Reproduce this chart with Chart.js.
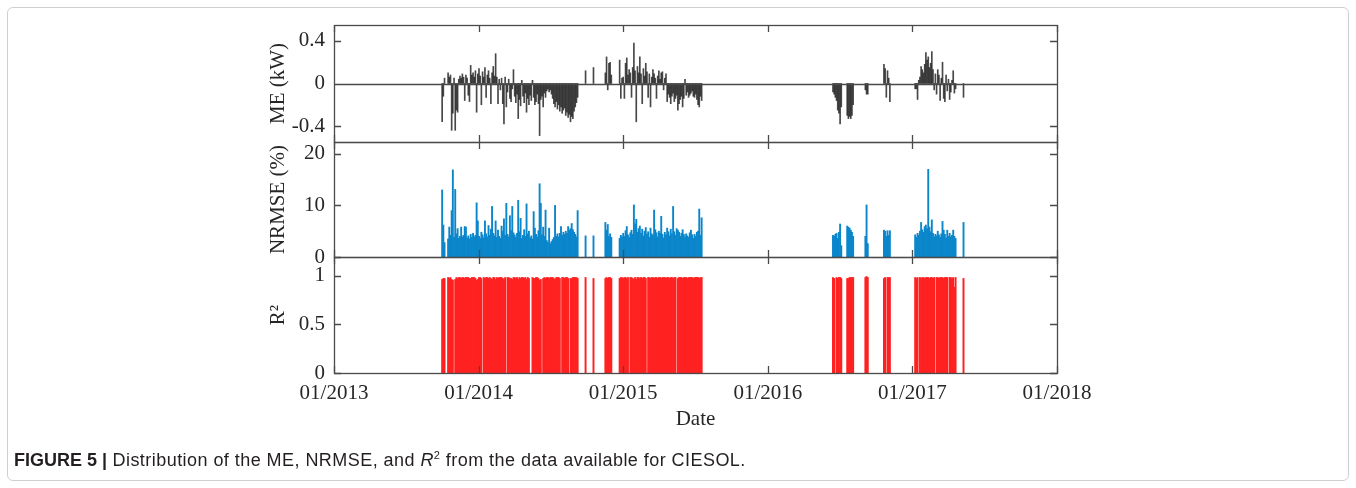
<!DOCTYPE html>
<html>
<head>
<meta charset="utf-8">
<script src="https://cdn.jsdelivr.net/npm/chart.js@4.4.1/dist/chart.umd.min.js"></script>
<style>
  html, body { margin: 0; padding: 0; background: #fff; width: 1356px; height: 488px; overflow: hidden; }
  #frame { position: absolute; left: 7px; top: 7px; width: 1342px; height: 474px; border: 1px solid #cfcfcf; border-radius: 6px; box-sizing: border-box; }
  canvas { position: absolute; left: 0; }
  #caption { position: absolute; left: 14px; top: 450px; font-family: "Liberation Sans", Arial, sans-serif; font-size: 18px; letter-spacing: 0.45px; color: #231f20; white-space: nowrap; }
  #caption b { font-weight: bold; letter-spacing: 0; }
  #caption sup { font-size: 11px; vertical-align: 7px; line-height: 0; }
</style>
</head>
<body>
<div id="frame"></div>
<canvas id="cME" width="1356" height="170" style="top:0px"></canvas>
<canvas id="cNR" width="1356" height="165" style="top:117px"></canvas>
<canvas id="cR2" width="1356" height="256" style="top:232px"></canvas>
<div id="caption"><b>FIGURE 5 |</b> Distribution of the ME, NRMSE, and <i>R</i><sup>2</sup> from the data available for CIESOL.</div>
<script>
// ---------------- DATA (one value every 3 days per segment) ----------------
const segmentStarts = ['2013-10-01', '2014-09-28', '2014-10-18', '2014-11-17',
                       '2016-06-14', '2016-07-20', '2016-09-04', '2016-10-21', '2017-01-08', '2017-05-10'];
const stepDays = 3;

const xTickYears = [2013, 2014, 2015, 2016, 2017, 2018];
const meTicks = [-0.4, 0, 0.4];
const nrmseTicks = [0, 10, 20];
const r2Ticks = [0, 0.5, 1];

// ME (kW)
const meValues = [
  [-0.36,-0.12,0.05,null,null,0.10,0.06,0.08,-0.44,-0.28,0.05,-0.44,-0.25,-0.27,0.04,0.07,0.05,0.09,0.06,-0.16,
   0.08,0.05,-0.11,-0.17,0.17,0.08,0.10,0.06,0.12,-0.27,0.09,0.14,0.07,-0.20,0.11,0.06,0.15,-0.13,0.08,0.12,
   0.05,-0.19,0.10,0.16,0.07,0.28,0.06,-0.19,0.04,-0.06,0.05,-0.19,-0.38,0.06,-0.22,-0.08,0.04,-0.14,-0.17,-0.05,
   0.13,-0.12,-0.18,-0.10,-0.33,-0.15,-0.21,0.03,-0.12,-0.18,-0.09,-0.27,-0.14,-0.20,-0.11,-0.16,0.03,-0.13,-0.20,-0.17,
   -0.10,-0.19,-0.49,-0.15,-0.12,-0.22,-0.09,-0.13,-0.07,-0.05,-0.08,-0.06,-0.10,-0.14,-0.19,-0.22,-0.17,-0.24,-0.20,-0.26,
   -0.22,-0.28,-0.25,-0.23,-0.30,-0.27,-0.32,-0.29,-0.36,-0.31,-0.33,-0.26,-0.22,-0.18,-0.13],
  [0.12],
  [0.15],
  [0.10,0.25,-0.06,0.19,0.20,0.08,null,null,null,null,null,null,0.22,-0.14,0.05,0.06,-0.14,0.19,0.24,0.08,
   0.13,0.10,-0.13,0.15,0.38,0.12,-0.36,0.16,0.10,0.25,0.09,-0.19,0.14,0.07,0.19,0.11,-0.13,0.09,-0.22,0.06,
   0.13,0.09,0.05,-0.14,0.07,0.12,0.04,0.10,0.11,-0.06,0.05,0.09,-0.17,-0.10,-0.13,-0.19,-0.12,-0.09,-0.17,-0.14,
   -0.11,-0.25,-0.19,-0.15,-0.12,-0.22,-0.14,0.04,-0.11,-0.08,-0.13,-0.11,-0.09,-0.07,-0.12,-0.13,-0.10,-0.15,-0.20,-0.22,
   -0.12,-0.16],
  [-0.08,-0.10,-0.13,-0.16,-0.25,-0.28,-0.38,-0.22],
  [-0.30,-0.33,-0.31,-0.33,-0.30,-0.20],
  [-0.06,-0.10,-0.10],
  [0.18,0.14,-0.13,0.12,0.05,-0.17],
  [-0.05,-0.05,-0.15,0.03,0.06,0.16,0.13,0.10,0.18,0.29,0.22,0.25,0.15,0.19,0.30,0.13,-0.06,0.09,-0.10,0.13,
   0.08,-0.16,0.05,0.20,-0.14,-0.17,0.08,-0.07,0.04,-0.15,-0.08,0.03,0.12,-0.09,-0.05],
  [-0.13]
];

// NRMSE (%)
const nrmseValues = [
  [13.0,6.2,2.8,null,null,3.5,5.8,4.2,9.0,16.9,3.8,13.1,4.5,5.5,3.6,4.0,5.8,3.9,4.2,5.9,
   5.8,3.7,4.1,3.5,4.4,3.8,4.6,3.9,4.2,10.5,7.0,4.0,3.6,4.8,4.3,3.7,7.0,4.5,3.9,6.1,
   4.2,5.4,9.8,4.6,4.1,7.0,3.8,5.2,4.0,3.6,6.0,5.0,7.4,4.2,10.4,4.4,3.9,8.0,5.1,9.8,
   4.7,4.3,3.8,4.6,11.0,4.9,7.5,3.6,4.2,5.3,4.0,10.3,4.5,5.0,3.7,4.1,3.5,8.8,5.6,4.4,
   3.9,5.1,14.2,10.4,4.3,5.8,4.0,9.1,3.2,2.8,5.6,2.6,3.0,3.4,3.8,10.0,4.0,4.5,3.9,4.6,
   5.9,4.2,4.8,4.4,5.0,4.6,5.9,5.2,5.5,6.5,5.3,4.8,4.4,3.9,9.0],
  [4.1],
  [4.1],
  [6.7,5.2,6.3,4.0,4.5,3.8,null,null,null,null,null,null,3.6,4.2,3.9,4.6,4.0,5.1,5.9,4.3,
   3.8,4.7,5.2,4.4,10.1,6.4,7.3,4.8,5.5,6.0,4.6,5.4,4.1,5.0,5.7,4.4,4.9,3.8,5.6,4.5,
   4.2,9.1,5.3,4.7,3.9,5.0,4.6,7.9,4.4,3.7,4.8,4.3,5.6,4.9,4.1,5.4,4.5,9.8,4.9,4.2,
   5.5,5.2,4.8,4.0,4.6,5.3,4.4,3.9,4.5,4.1,3.8,4.7,5.2,4.3,3.6,4.4,4.0,4.8,5.0,9.3,
   4.2,7.6],
  [4.2,4.0,4.4,4.6,3.6,4.8,6.4,2.2],
  [6.0,5.8,5.6,5.2,4.8,4.0],
  [4.0,10.1,2.6],
  [5.2,5.0,4.0,5.1,4.2,5.1],
  [4.3,3.8,4.6,4.2,5.0,6.7,5.3,4.8,5.9,6.2,5.5,17.0,5.8,4.9,7.2,4.6,3.9,4.4,4.1,5.0,
   4.3,3.8,4.5,6.9,5.2,4.4,3.7,5.2,4.0,4.6,3.9,4.2,5.2,4.0,3.6],
  [6.7]
];

// R²
const r2Values = [
  [0.96,0.97,0.97,null,null,0.98,0.97,0.98,0.96,0.95,null,0.96,0.98,0.97,0.98,0.98,0.97,0.98,0.98,0.97,
   0.98,0.98,0.98,0.97,0.97,0.98,0.98,0.98,0.97,0.95,0.96,0.98,0.98,0.97,null,0.98,0.97,0.98,0.98,0.97,
   0.98,0.97,0.96,0.98,0.98,0.96,0.98,0.97,0.98,0.98,0.98,0.97,0.96,0.98,null,0.98,0.98,0.97,0.97,0.96,
   0.98,0.98,0.97,0.98,0.96,0.98,0.97,0.98,0.98,0.97,0.98,0.96,0.98,0.97,null,null,0.98,0.97,0.97,0.98,
   0.98,0.97,0.95,0.96,null,0.97,0.98,0.97,0.98,0.98,0.97,0.98,0.98,0.98,0.97,0.96,0.98,0.98,0.98,0.97,
   null,0.98,0.98,0.97,0.98,0.98,0.97,null,0.97,0.97,0.98,0.98,0.98,0.98,0.97],
  [0.98],
  [0.97],
  [0.97,0.98,0.97,0.98,0.98,0.97,null,null,null,null,null,null,0.97,0.98,0.98,0.97,0.98,0.98,0.97,0.98,
   null,0.98,0.98,0.97,0.96,0.98,0.96,0.98,0.98,0.97,0.98,0.97,0.98,0.98,0.97,null,0.98,0.98,0.97,0.98,
   0.98,0.97,0.98,0.98,0.97,0.98,0.98,0.97,0.98,0.98,0.98,0.97,0.98,0.98,0.97,0.98,0.98,0.97,0.98,0.98,
   null,0.97,0.98,0.98,0.98,0.97,0.98,0.98,0.98,0.97,0.98,0.98,0.98,0.98,0.97,0.98,0.98,0.98,0.98,0.97,
   0.98,0.98],
  [0.98,0.97,null,0.98,0.97,0.98,0.98,0.97],
  [0.97,0.97,0.98,0.98,0.98,0.98],
  [0.98,0.99,0.98],
  [0.97,0.98,null,0.98,0.98,0.98],
  [0.98,0.97,0.98,null,0.98,0.97,0.98,0.98,0.97,0.98,0.98,0.98,0.97,0.98,0.98,0.97,0.98,null,0.98,0.98,
   0.97,0.98,0.98,0.98,0.97,0.98,0.98,0.98,null,0.98,0.98,0.97,0.98,0.88,0.98],
  [0.97]
];
// -----------------------------------------------------------------------------------------------

function yearFraction(d) {
  const y = d.getUTCFullYear();
  const s = Date.UTC(y, 0, 1), e = Date.UTC(y + 1, 0, 1);
  return y + (d.getTime() - s) / (e - s);
}
function buildPoints(segments) {
  const pts = [];
  segments.forEach((vals, si) => {
    const start = new Date(segmentStarts[si] + 'T00:00:00Z');
    vals.forEach((v, k) => {
      if (v === null) return;
      const d = new Date(start.getTime() + k * stepDays * 86400000);
      pts.push({ x: yearFraction(d), y: v });
    });
  });
  return pts;
}

Chart.defaults.font.family = '"Liberation Serif", "DejaVu Serif", serif';
Chart.defaults.font.size = 21;
Chart.defaults.color = '#262626';

const AXIS_COLOR = '#4a4a4a';
const boxPlugin = {
  id: 'matlabBox',
  afterDatasetsDraw(chart, args, opts) {
    const { ctx, chartArea: a, scales } = chart;
    const xs = scales.x, ys = scales.y;
    const tl = 7;
    ctx.save();
    ctx.strokeStyle = AXIS_COLOR;
    ctx.lineWidth = 1.3;
    ctx.beginPath();
    if (opts.zeroLine) {
      const p0 = Math.round(ys.getPixelForValue(0)) + 0.5;
      ctx.moveTo(a.left, p0); ctx.lineTo(a.right, p0);
    }
    xs.ticks.forEach(t => {
      const px = Math.round(xs.getPixelForValue(t.value)) + 0.5;
      ctx.moveTo(px, a.bottom); ctx.lineTo(px, a.bottom - tl);
      ctx.moveTo(px, a.top); ctx.lineTo(px, a.top + tl);
    });
    ys.ticks.forEach(t => {
      const py = Math.round(ys.getPixelForValue(t.value)) + 0.5;
      ctx.moveTo(a.left, py); ctx.lineTo(a.left + tl, py);
      ctx.moveTo(a.right, py); ctx.lineTo(a.right - tl, py);
    });
    ctx.stroke();
    ctx.strokeRect(Math.round(a.left) + 0.5, Math.round(a.top) + 0.5,
                   Math.round(a.right - a.left), Math.round(a.bottom - a.top));
    ctx.restore();
  }
};

const PLOT_LEFT = 334, PLOT_RIGHT = 1057, CANVAS_W = 1356, YAXIS_W = 72;

function makePanel(id, opts) {
  const showX = !!opts.showX;
  return new Chart(document.getElementById(id), {
    type: 'bar',
    data: {
      datasets: [{
        data: buildPoints(opts.values),
        backgroundColor: opts.color,
        borderWidth: 0,
        barThickness: opts.thickness,
        grouped: false
      }]
    },
    options: {
      responsive: false,
      animation: false,
      devicePixelRatio: 1,
      layout: { padding: { left: PLOT_LEFT - YAXIS_W, right: CANVAS_W - PLOT_RIGHT, top: opts.padTop, bottom: opts.padBottom } },
      plugins: { legend: { display: false }, tooltip: { enabled: false }, matlabBox: { zeroLine: !!opts.zeroLine } },
      scales: {
        x: {
          type: 'linear',
          min: 2013, max: 2018,
          offset: false,
          display: showX,
          grid: { display: false, drawTicks: false },
          border: { display: false },
          afterBuildTicks: ax => { ax.ticks = xTickYears.map(v => ({ value: v })); },
          ticks: { padding: 8, maxRotation: 0, autoSkip: false, callback: v => '01/' + v, font: { size: 21 } },
          title: { display: showX, text: 'Date', font: { size: 21 }, padding: { top: 0, bottom: 2 } },
          afterFit: ax => { if (showX) ax.height = 61; }
        },
        y: {
          type: 'linear',
          min: opts.min, max: opts.max,
          grid: { display: false, drawTicks: false },
          border: { display: false },
          afterBuildTicks: ax => { ax.ticks = opts.ticks.map(v => ({ value: v })); },
          ticks: { padding: 9, callback: v => String(v), font: { size: 21 } },
          title: { display: true, text: opts.title, font: { size: 21 }, padding: { top: 4, bottom: 0 } },
          afterFit: ax => { ax.width = YAXIS_W; }
        }
      }
    },
    plugins: [boxPlugin]
  });
}

makePanel('cME', { values: meValues, color: 'rgba(25,25,25,0.8)', thickness: 1, min: -0.55, max: 0.55,
  ticks: meTicks, title: 'ME (kW)', padTop: 25, padBottom: 28, zeroLine: true });
makePanel('cNR', { values: nrmseValues, color: '#0b86cb', thickness: 1.25, min: 0, max: 22.3,
  ticks: nrmseTicks, title: 'NRMSE (%)', padTop: 25, padBottom: 25 });
makePanel('cR2', { values: r2Values, color: '#ff2121', thickness: 1.3, min: 0, max: 1.19,
  ticks: r2Ticks, title: 'R²', padTop: 25, padBottom: 54, showX: true });
</script>
</body>
</html>
